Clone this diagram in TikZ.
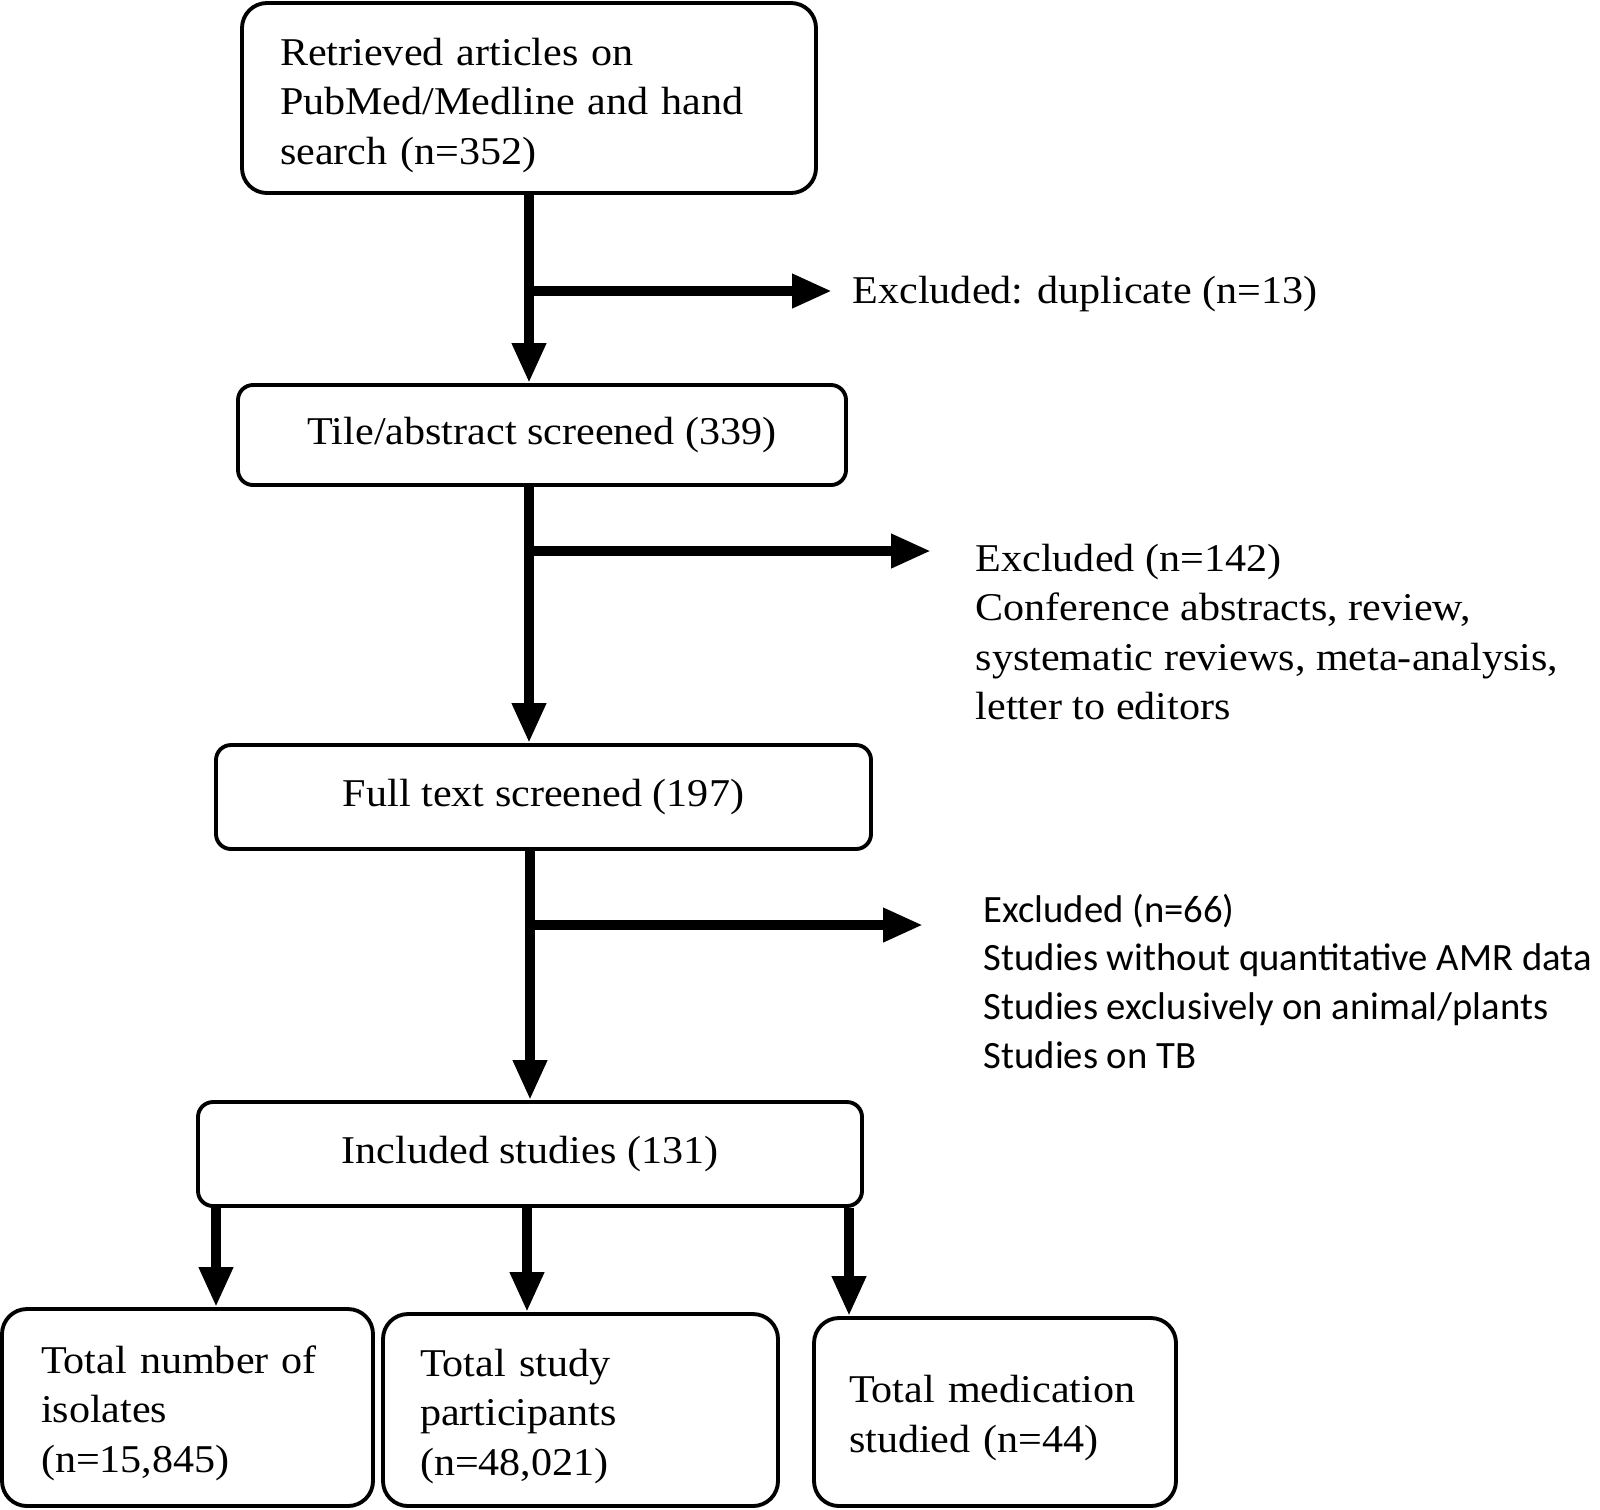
\documentclass[tikz,border=0pt]{standalone}
\usepackage{fontspec}
\setmainfont{Liberation Serif}[FakeStretch=1.07]
\newfontfamily\calibri{Carlito}
\usetikzlibrary{arrows.meta}

\begin{document}
\begin{tikzpicture}
        [box/.style={draw, rounded corners=0.15cm, line width=1.1pt, font=\fontsize{11.2}{14.1}\selectfont},
        boxBig/.style={box, rounded corners=0.25cm, align=left},
        arr/.style={line width=2.8pt, -{Triangle[length=0.4cm, width=0.32cm]}},
        note/.style={inner sep=0pt, align=left, font=\fontsize{11.2}{14.1}\selectfont},
        noteSans/.style={inner sep=0pt, align=left, font=\calibri\fontsize{11}{13.9}\selectfont}]
        \useasboundingbox (0,0) rectangle (16,-15.09);

        % main column
        \node[boxBig, minimum width=5.74cm, minimum height=1.90cm, text width=4.98cm, inner xsep=0.38cm] (ret) at (5.29,-0.98) {\rule{0pt}{0.42cm}Retrieved articles on\\ PubMed/Medline and hand\\ search (n=352)};
        \node[box, minimum width=6.08cm, minimum height=1.00cm] (tile) at (5.42,-4.35) {Tile/abstract screened (339)};
        \node[box, minimum width=6.55cm, minimum height=1.04cm] (full) at (5.435,-7.97) {Full text screened (197)};
        \node[box, minimum width=6.64cm, minimum height=1.04cm] (inc) at (5.30,-11.54) {Included studies (131)};

        % outcome boxes
        \node[boxBig, minimum width=3.71cm, minimum height=1.97cm, text width=2.93cm, inner xsep=0.39cm] (iso) at (1.875,-14.075) {\rule{0pt}{0.39cm}Total number of\\ isolates\\ (n=15,845)};
        \node[boxBig, minimum width=3.95cm, minimum height=1.92cm, text width=3.21cm, inner xsep=0.37cm] (part) at (5.805,-14.10) {\rule{0pt}{0.40cm}Total study\\ participants\\ (n=48,021)};
        \node[boxBig, minimum width=3.62cm, minimum height=1.88cm, text width=2.92cm, inner xsep=0.35cm] (med) at (9.95,-14.12) {\rule{0pt}{0.39cm}Total medication\\ studied (n=44)};

        % exclusions
        \node[note, anchor=base west] (ex1) at (8.52,-3.03) {Excluded: duplicate (n=13)};
        \node[note, anchor=north west] (ex2) at (9.75,-5.43) {Excluded (n=142)\\ Conference abstracts, review,\\ systematic reviews, meta-analysis,\\ letter to editors};
        \node[noteSans, anchor=north west] (ex3) at (9.83,-8.93) {Excluded (n=66)\\ Studies without quantitative AMR data\\ Studies exclusively on animal/plants\\ Studies on TB};

        \coordinate (b1) at (5.29,-2.91);
        \coordinate (e1) at (8.32,-2.91);
        \coordinate (b2) at (5.29,-5.51);
        \coordinate (e2) at (9.31,-5.51);
        \coordinate (b3) at (5.27,-9.25);
        \coordinate (e3) at (9.23,-9.25);

        \draw[arr] (ret.south) -- (ret.south |- tile.north);
        \draw[arr] (tile.south -| ret.south) -- (full.north -| ret.south);
        \draw[arr] (full.south -| inc.north) -- (inc.north);

        \draw[arr] (b1) -- (e1);
        \draw[arr] (b2) -- (e2);
        \draw[arr] (b3) -- (e3);

        \draw[arr] ([xshift=0.285cm]iso.north |- inc.south) -- ([xshift=0.285cm]iso.north);
        \draw[arr] ([xshift=-0.535cm]part.north |- inc.south) -- ([xshift=-0.535cm]part.north);
        \draw[arr] ([xshift=-1.46cm]med.north |- inc.south) -- ([xshift=-1.46cm]med.north);

    \end{tikzpicture}
\end{document}
